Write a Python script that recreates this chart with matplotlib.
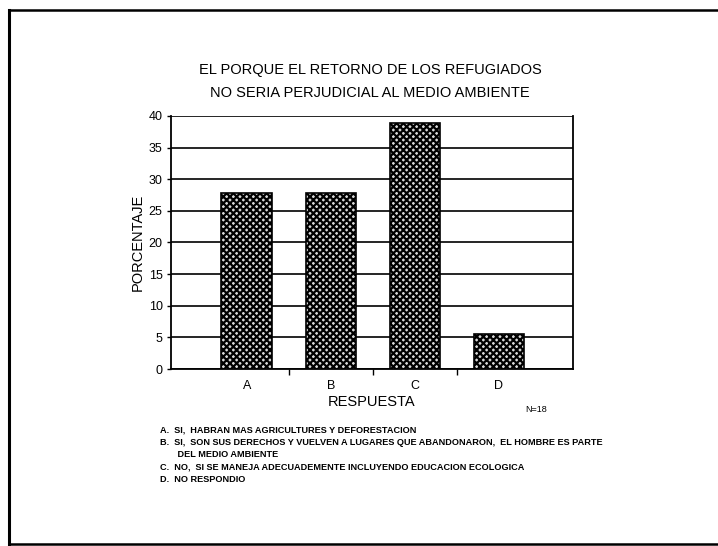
import matplotlib.pyplot as plt
from matplotlib.lines import Line2D

# data (N=18)
categories = ['A', 'B', 'C', 'D']
percent = [27.78, 27.78, 38.89, 5.56]
y_ticks = [0, 5, 10, 15, 20, 25, 30, 35, 40]
title_lines = ['EL PORQUE EL RETORNO DE LOS REFUGIADOS',
               'NO SERIA PERJUDICIAL AL MEDIO AMBIENTE']
legend_lines = [
    'A.  SI,  HABRAN MAS AGRICULTURES Y DEFORESTACION',
    'B.  SI,  SON SUS DERECHOS Y VUELVEN A LUGARES QUE ABANDONARON,  EL HOMBRE ES PARTE',
    '       DEL MEDIO AMBIENTE',
    'C.  NO,  SI SE MANEJA ADECUADEMENTE INCLUYENDO EDUCACION ECOLOGICA',
    'D.  NO RESPONDIO',
]

plt.rcParams['font.family'] = ['Liberation Sans', 'DejaVu Sans']
plt.rcParams['hatch.linewidth'] = 1.6

fig = plt.figure(figsize=(7.18, 5.46), dpi=100)
W, H = 718, 546

# outer frame of the scanned page (right side is cut off)
fig.add_artist(Line2D([9 / W, 9 / W], [1 - 10 / H, 1 - 544 / H], color='black', lw=2.2))
fig.add_artist(Line2D([9 / W, 1.0], [1 - 10 / H, 1 - 10 / H], color='black', lw=1.8))
fig.add_artist(Line2D([9 / W, 1.0], [1 - 544 / H, 1 - 544 / H], color='black', lw=1.8))

ax = fig.add_axes([171 / W, 1 - 369 / H, (573 - 171) / W, (369 - 116) / H])

x = list(range(len(categories)))
ax.bar(x, percent, width=0.6, color='#d8d8d8', edgecolor='black', hatch='xxxxx',
       linewidth=1.2, zorder=3)

ax.set_ylim(0, 40)
ax.set_xlim(-0.9, 3.88)
ax.set_yticks(y_ticks)
ax.set_yticklabels([str(v) for v in y_ticks], fontsize=9)
ax.yaxis.grid(True, color='black', linewidth=1.2, zorder=1)

ax.set_xticks(x)
ax.set_xticklabels(categories, fontsize=9)
ax.tick_params(axis='x', length=0, pad=8)
# small separator ticks between categories
ax.set_xticks([0.5, 1.5, 2.5], minor=True)
ax.tick_params(axis='x', which='minor', length=4, width=1.0, direction='out')
ax.tick_params(axis='y', length=3, width=1.0, direction='out', pad=3)

ax.spines['top'].set_visible(False)
for s in ['left', 'right', 'bottom']:
    ax.spines[s].set_linewidth(1.3)

ax.set_ylabel('PORCENTAJE', fontsize=10.5, labelpad=3)
ax.set_xlabel('RESPUESTA', fontsize=10.5, labelpad=2)

fig.text(370 / W, 1 - 70 / H, title_lines[0], ha='center', va='center', fontsize=10.5)
fig.text(370 / W, 1 - 93 / H, title_lines[1], ha='center', va='center', fontsize=10.5)

fig.text(525 / W, 1 - 409 / H, 'N=18', ha='left', va='center', fontsize=6.5)

for i, line in enumerate(legend_lines):
    fig.text(160 / W, 1 - (430 + i * 12.3) / H, line, ha='left', va='center',
             fontsize=6.6, fontweight='bold')

fig.savefig('out.png', dpi=100)
